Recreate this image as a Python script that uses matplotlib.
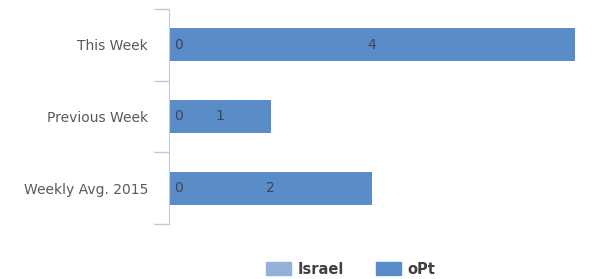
import matplotlib.pyplot as plt
from matplotlib.patches import Patch

categories = ["This Week", "Previous Week", "Weekly Avg. 2015"]
israel = [0, 0, 0]
opt = [4, 1, 2]

israel_color = "#93b1d9"
opt_color = "#5a8dc8"
axis_color = "#bccbe0"
label_color = "#595959"
value_color = "#3b4656"

fig = plt.figure(figsize=(5.92, 2.79), dpi=100)
ax = fig.add_axes([169 / 592, 1 - 224 / 279, (575 - 169) / 592, (224 - 9) / 279])

y = list(range(len(categories)))
ax.barh(y, israel, height=0.46, color=israel_color, edgecolor="none")
ax.barh(y, opt, left=israel, height=0.46, color=opt_color, edgecolor="none")

# data labels: Israel zero at bar start, oPt value in the middle of its segment
for i in y:
    ax.annotate(str(israel[i]), (israel[i], i), xytext=(3.5, 0), textcoords="offset points",
                ha="left", va="center", fontsize=10, color=value_color)
    ax.text(israel[i] + opt[i] / 2, i, str(opt[i]), ha="center", va="center",
            fontsize=10, color=value_color)

ax.set_xlim(0, 4)
ax.set_ylim(2.5, -0.5)

ax.set_yticks(y)
ax.set_yticklabels(categories, fontsize=10, color=label_color)
ax.set_yticks([-0.5, 0.5, 1.5, 2.5], minor=True)
ax.tick_params(axis="y", which="major", length=0, pad=15)
ax.tick_params(axis="y", which="minor", length=11, color=axis_color, width=1)
ax.set_xticks([])

for side in ["top", "right", "bottom"]:
    ax.spines[side].set_visible(False)
ax.spines["left"].set_color(axis_color)

handles = [Patch(color=israel_color, label="Israel"), Patch(color=opt_color, label="oPt")]
fig.legend(handles=handles, loc="center", bbox_to_anchor=(351 / 592, 1 - 269 / 279),
           ncol=2, frameon=False, handlelength=1.7, handleheight=0.9,
           columnspacing=2.2, handletextpad=0.45,
           prop={"size": 10.5, "weight": "bold"}, labelcolor="#404040")

fig.savefig("out.png", dpi=100)
